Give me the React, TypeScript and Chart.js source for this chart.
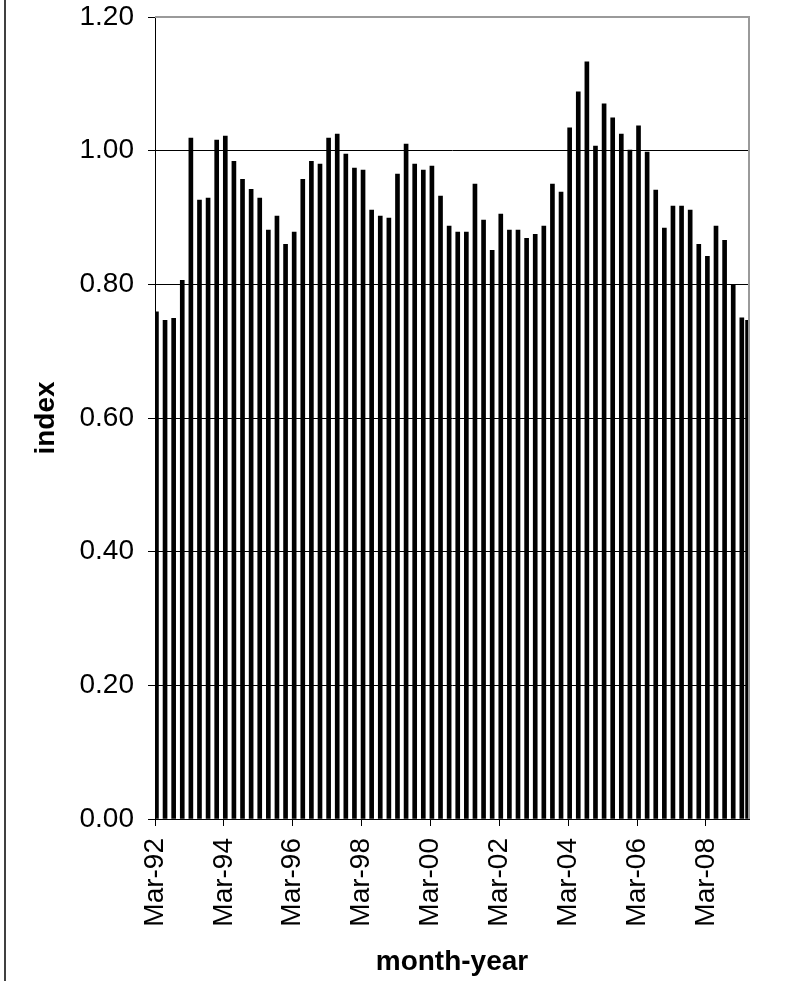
import { useEffect, useRef } from 'react';
import { Chart, registerables } from 'chart.js';

Chart.register(...registerables);

const FONT = "'Liberation Sans', Arial, Helvetica, sans-serif";

// Observation dates (quarterly, last one a May-09 reading)
const obsDates: string[] = [
  'Mar-92', 'Jun-92', 'Sep-92', 'Dec-92',
  'Mar-93', 'Jun-93', 'Sep-93', 'Dec-93',
  'Mar-94', 'Jun-94', 'Sep-94', 'Dec-94',
  'Mar-95', 'Jun-95', 'Sep-95', 'Dec-95',
  'Mar-96', 'Jun-96', 'Sep-96', 'Dec-96',
  'Mar-97', 'Jun-97', 'Sep-97', 'Dec-97',
  'Mar-98', 'Jun-98', 'Sep-98', 'Dec-98',
  'Mar-99', 'Jun-99', 'Sep-99', 'Dec-99',
  'Mar-00', 'Jun-00', 'Sep-00', 'Dec-00',
  'Mar-01', 'Jun-01', 'Sep-01', 'Dec-01',
  'Mar-02', 'Jun-02', 'Sep-02', 'Dec-02',
  'Mar-03', 'Jun-03', 'Sep-03', 'Dec-03',
  'Mar-04', 'Jun-04', 'Sep-04', 'Dec-04',
  'Mar-05', 'Jun-05', 'Sep-05', 'Dec-05',
  'Mar-06', 'Jun-06', 'Sep-06', 'Dec-06',
  'Mar-07', 'Jun-07', 'Sep-07', 'Dec-07',
  'Mar-08', 'Jun-08', 'Sep-08', 'Dec-08',
  'Mar-09', 'May-09',
];

const indexValues: number[] = [
  0.759, 0.746, 0.749, 0.806,
  1.019, 0.926, 0.929, 1.016,
  1.022, 0.984, 0.957, 0.942,
  0.929, 0.881, 0.902, 0.860,
  0.878, 0.957, 0.984, 0.980,
  1.019, 1.025, 0.995, 0.974,
  0.971, 0.911, 0.902, 0.899,
  0.965, 1.010, 0.980, 0.971,
  0.977, 0.932, 0.887, 0.878,
  0.878, 0.950, 0.896, 0.851,
  0.905, 0.881, 0.881, 0.869,
  0.875, 0.887, 0.950, 0.938,
  1.034, 1.088, 1.133, 1.007,
  1.070, 1.049, 1.025, 1.001,
  1.037, 0.998, 0.941, 0.884,
  0.917, 0.917, 0.911, 0.860,
  0.842, 0.887, 0.866, 0.800,
  0.750, 0.746,
];

const monthNames = ['Jan', 'Feb', 'Mar', 'Apr', 'May', 'Jun', 'Jul', 'Aug', 'Sep', 'Oct', 'Nov', 'Dec'];
const axisStart = 'Mar-92';
const axisMonths = 207; // Mar-92 .. May-09 inclusive
const xTickStepMonths = 24;
const yMin = 0;
const yMax = 1.2;
const yStep = 0.2;

function absMonth(label: string): number {
  const [mon, yy] = label.split('-');
  const y = parseInt(yy, 10);
  const year = y < 50 ? 2000 + y : 1900 + y;
  return year * 12 + monthNames.indexOf(mon);
}

const startAbs = absMonth(axisStart);

function monthLabel(offset: number): string {
  const abs = startAbs + Math.round(offset);
  const year = Math.floor(abs / 12);
  const mon = abs % 12;
  return `${monthNames[mon]}-${String(year % 100).padStart(2, '0')}`;
}

const borderPlugin = {
  id: 'plotBorder',
  afterDraw(chart: any) {
    const { ctx, chartArea } = chart;
    const { left, right, top, bottom } = chartArea;
    ctx.save();
    ctx.strokeStyle = '#9a9a9a';
    ctx.lineWidth = 2;
    ctx.beginPath();
    ctx.moveTo(left, top);
    ctx.lineTo(right, top);
    ctx.lineTo(right, bottom);
    ctx.stroke();
    ctx.restore();
  },
};

export default function App() {
  const ref = useRef<HTMLCanvasElement>(null);

  useEffect(() => {
    document.body.style.margin = '0';
    const points = obsDates.map((d, i) => ({ x: absMonth(d) - startAbs + 0.5, y: indexValues[i] }));
    const font = { family: FONT, size: 28 };
    const chart = new Chart(ref.current as HTMLCanvasElement, {
      type: 'bar',
      data: {
        datasets: [
          {
            data: points as any,
            backgroundColor: '#000000',
            borderWidth: 0,
            barThickness: 4,
          } as any,
        ],
      },
      options: {
        animation: false,
        responsive: false,
        layout: { padding: { left: 25, right: 37, top: 17, bottom: 0 } },
        plugins: { legend: { display: false }, tooltip: { enabled: false } },
        scales: {
          x: {
            type: 'linear',
            min: 0,
            max: axisMonths,
            offset: false,
            grid: { offset: false, drawOnChartArea: false, drawTicks: true, tickLength: 7, color: '#000', tickColor: '#000' },
            border: { color: '#000', width: 1 },
            ticks: {
              stepSize: xTickStepMonths,
              includeBounds: false,
              autoSkip: false,
              minRotation: 90,
              maxRotation: 90,
              padding: 12,
              color: '#000',
              font,
              callback: (v: any) => monthLabel(Number(v)),
            },
            title: { display: true, text: 'month-year', color: '#000', font: { ...font, weight: 'bold' }, padding: { top: 4, bottom: 2 } },
            afterFit: (s: any) => { s.height = 162; s.paddingLeft = 0; s.paddingRight = 0; },
          } as any,
          y: {
            min: yMin,
            max: yMax,
            grid: { color: '#000', tickColor: '#000', tickLength: 7, drawTicks: true },
            border: { color: '#000', width: 1 },
            ticks: {
              stepSize: yStep,
              padding: 14,
              color: '#000',
              font,
              callback: (v: any) => Number(v).toFixed(2),
            },
            title: { display: true, text: 'index', color: '#000', font: { ...font, weight: 'bold' }, padding: { top: 4, bottom: 4 } },
            afterFit: (s: any) => { s.width = 130; s.paddingTop = 0; s.paddingBottom = 0; },
          } as any,
        },
      },
      plugins: [borderPlugin],
    });
    return () => chart.destroy();
  }, []);

  return (
    <div style={{ position: 'absolute', left: 0, top: 0, width: 786, height: 981, background: '#fff' }}>
      <div style={{ position: 'absolute', left: 4, top: 0, width: 2, height: 981, background: '#404040' }} />
      <canvas ref={ref} width={786} height={981} style={{ position: 'absolute', left: 0, top: 0, display: 'block' }} />
    </div>
  );
}
